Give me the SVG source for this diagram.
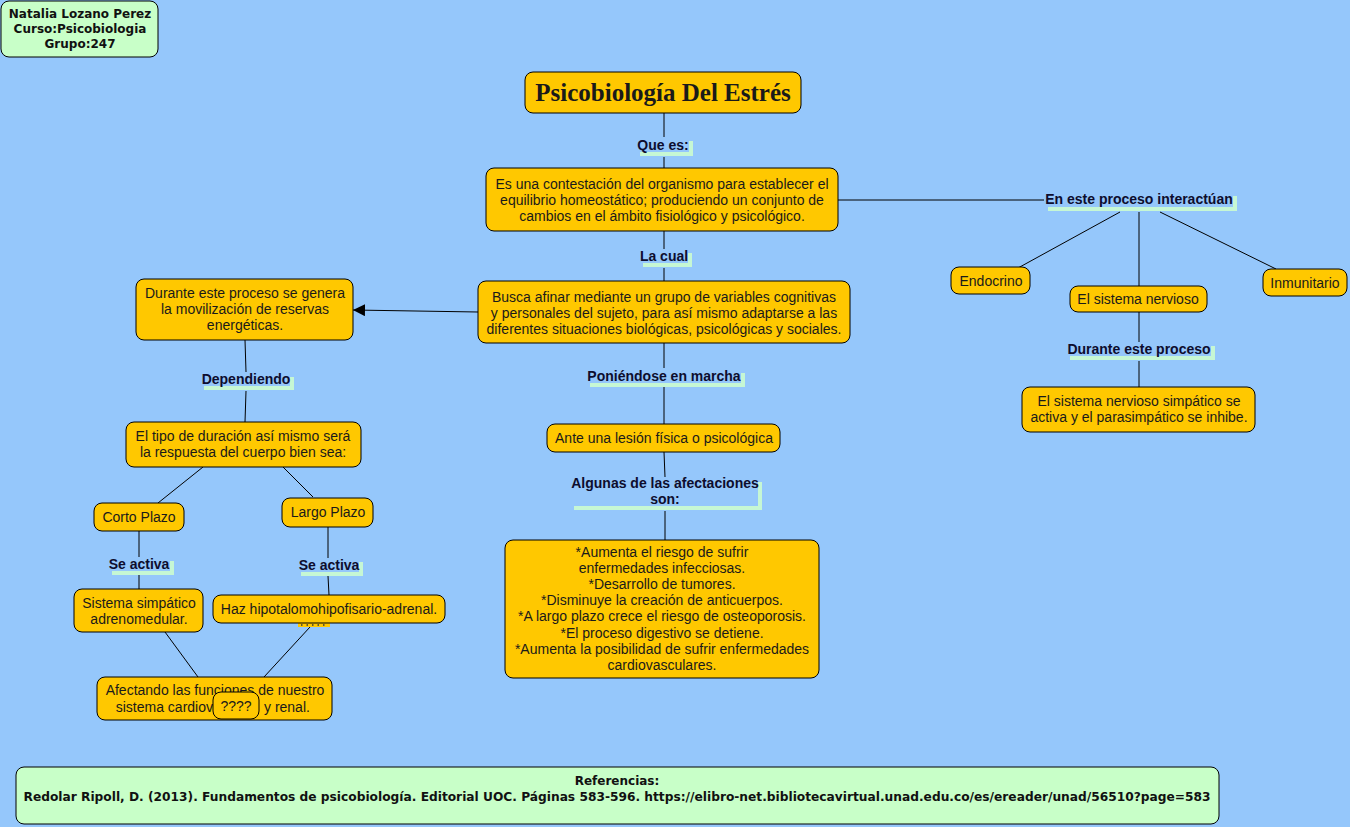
<svg xmlns="http://www.w3.org/2000/svg" width="1350" height="827" viewBox="0 0 1350 827">
<defs>
<marker id="arr" viewBox="0 0 12 12" refX="12" refY="6" markerWidth="12" markerHeight="12" markerUnits="userSpaceOnUse" orient="auto">
<path d="M0,0 L12,6 L0,12 Z" fill="#000"/>
</marker>
</defs>
<style>
.bg{fill:#95c7fb}
.n{fill:#ffc800;stroke:#000;stroke-width:1}
.g{fill:#c8ffc8;stroke:#000;stroke-width:1}
.t{font-family:"Liberation Sans",Arial,sans-serif;font-size:14px;fill:#1a1a1a;text-anchor:middle}
.l{font-family:"Liberation Sans",Arial,sans-serif;font-size:14px;font-weight:bold;fill:#0d0d2e;text-anchor:middle}
.v{font-family:"DejaVu Sans",Verdana,sans-serif;font-size:12px;font-weight:bold;fill:#111;text-anchor:middle}
.sh{fill:none;stroke:#c6f7d4;stroke-width:4}
.c{stroke:#000;stroke-width:1;fill:none}
</style>
<rect class="bg" x="0" y="0" width="1350" height="827"/>

<g id="connectors">
<line class="c" x1="664" y1="113" x2="664" y2="137"/>
<line class="c" x1="664" y1="157" x2="664" y2="168"/>
<line class="c" x1="664" y1="231" x2="664" y2="249"/>
<line class="c" x1="664" y1="268" x2="664" y2="281"/>
<line class="c" x1="478" y1="312" x2="353" y2="310" marker-end="url(#arr)"/>
<line class="c" x1="245" y1="340" x2="246" y2="372"/>
<line class="c" x1="246" y1="391" x2="245" y2="422"/>
<line class="c" x1="664" y1="343" x2="664" y2="368"/>
<line class="c" x1="664" y1="387" x2="664" y2="424"/>
<line class="c" x1="664" y1="452" x2="665" y2="477"/>
<line class="c" x1="665" y1="511" x2="665" y2="540"/>
<line class="c" x1="203" y1="467" x2="158" y2="503"/>
<line class="c" x1="283" y1="467" x2="313" y2="497"/>
<line class="c" x1="139" y1="531" x2="139" y2="557"/>
<line class="c" x1="139" y1="575" x2="139" y2="589"/>
<line class="c" x1="328" y1="527" x2="328" y2="558"/>
<line class="c" x1="328" y1="576" x2="329" y2="595"/>
<line class="c" x1="165" y1="632" x2="198" y2="677"/>
<line class="c" x1="310" y1="627" x2="264" y2="677"/>
<line class="c" x1="838" y1="200" x2="1044" y2="200"/>
<line class="c" x1="1120" y1="212" x2="1018" y2="268"/>
<line class="c" x1="1139" y1="212" x2="1139" y2="286"/>
<line class="c" x1="1160" y1="212" x2="1276" y2="269"/>
<line class="c" x1="1139" y1="312" x2="1139" y2="342"/>
<line class="c" x1="1139" y1="361" x2="1139" y2="387"/>
</g>

<g id="labels">
<g id="lbl-quees"><path class="sh" d="M640,154 H691 V141"/><text class="l" x="663" y="150">Que es:</text></g>
<g id="lbl-lacual"><path class="sh" d="M643,265 H690 V253"/><text class="l" x="664" y="261">La cual</text></g>
<g id="lbl-dependiendo"><path class="sh" d="M204,388 H292 V377"/><text class="l" x="246" y="384">Dependiendo</text></g>
<g id="lbl-poniendose"><path class="sh" d="M590,385 H743 V373"/><text class="l" x="664" y="381">Poniéndose en marcha</text></g>
<g id="lbl-algunas"><path class="sh" d="M574,508 H760 V482"/><text class="l" x="665" y="488">Algunas de las afectaciones</text><text class="l" x="665" y="504">son:</text></g>
<g id="lbl-seactiva1"><path class="sh" d="M112,573 H172 V561"/><text class="l" x="139" y="569">Se activa</text></g>
<g id="lbl-seactiva2"><path class="sh" d="M301,574 H361 V562"/><text class="l" x="329" y="570">Se activa</text></g>
<g id="lbl-interactuan"><path class="sh" d="M1048,209 H1235 V196"/><text class="l" x="1139" y="204">En este proceso interactúan</text></g>
<g id="lbl-duranteproceso"><path class="sh" d="M1070,358 H1213 V346"/><text class="l" x="1139" y="354">Durante este proceso</text></g>
</g>

<g id="n-autor"><rect class="g" x="1" y="1" width="157" height="56" rx="8"/>
<text class="v" x="80" y="18">Natalia Lozano Perez</text>
<text class="v" x="80" y="33">Curso:Psicobiologia</text>
<text class="v" x="80" y="48">Grupo:247</text></g>

<g id="n-titulo"><rect class="n" x="525" y="72" width="276" height="41" rx="8"/>
<text x="663" y="101" style="font-family:'Liberation Serif','Times New Roman',serif;font-size:25px;font-weight:bold;fill:#1a1a1a;text-anchor:middle">Psicobiología Del Estrés</text></g>

<g id="n-definicion"><rect class="n" x="486" y="168" width="352" height="63" rx="8"/>
<text class="t" x="662" y="189">Es una contestación del organismo para establecer el</text>
<text class="t" x="662" y="205">equilibrio homeostático; produciendo un conjunto de</text>
<text class="t" x="662" y="221">cambios en el ámbito fisiológico y psicológico.</text></g>

<g id="n-busca"><rect class="n" x="478" y="281" width="372" height="62" rx="8"/>
<text class="t" x="664" y="302">Busca afinar mediante un grupo de variables cognitivas</text>
<text class="t" x="664" y="318">y personales del sujeto, para así mismo adaptarse a las</text>
<text class="t" x="664" y="334">diferentes situaciones biológicas, psicológicas y sociales.</text></g>

<g id="n-movilizacion"><rect class="n" x="136" y="279" width="217" height="61" rx="8"/>
<text class="t" x="245" y="298">Durante este proceso se genera</text>
<text class="t" x="245" y="314">la movilización de reservas</text>
<text class="t" x="245" y="330">energéticas.</text></g>

<g id="n-duracion"><rect class="n" x="126" y="422" width="235" height="45" rx="8"/>
<text class="t" x="243" y="441">El tipo de duración así mismo será</text>
<text class="t" x="243" y="457">la respuesta del cuerpo bien sea:</text></g>

<g id="n-corto"><rect class="n" x="94" y="503" width="90" height="28" rx="8"/>
<text class="t" x="139" y="522">Corto Plazo</text></g>

<g id="n-largo"><rect class="n" x="282" y="498" width="91" height="29" rx="8"/>
<text class="t" x="328" y="517">Largo Plazo</text></g>

<g id="n-simpatico"><rect class="n" x="74" y="589" width="129" height="43" rx="8"/>
<text class="t" x="139" y="608">Sistema simpático</text>
<text class="t" x="139" y="624">adrenomedular.</text></g>

<g id="n-hidden"><rect x="298" y="618" width="32" height="9" fill="#ffc800"/>
<line x1="301" y1="625" x2="328" y2="625" stroke="#333" stroke-width="1.5" stroke-dasharray="1.5,4"/></g>

<g id="n-haz"><rect class="n" x="213" y="595" width="232" height="28" rx="8"/>
<text class="t" x="329" y="614">Haz hipotalomohipofisario-adrenal.</text></g>

<g id="n-afectando"><rect class="n" x="97" y="677" width="235" height="43" rx="8"/>
<text class="t" x="215" y="695">Afectando las funciones de nuestro</text>
<text class="t" x="213" y="712" style="text-anchor:end">sistema cardiov</text>
<text class="t" x="264" y="712" style="text-anchor:start">y renal.</text></g>

<g id="n-q"><rect class="n" x="213" y="692" width="46" height="27" rx="8"/>
<text class="t" x="236" y="711">????</text></g>

<g id="n-lesion"><rect class="n" x="547" y="424" width="233" height="28" rx="8"/>
<text class="t" x="664" y="443">Ante una lesión física o psicológica</text></g>

<g id="n-afectaciones"><rect class="n" x="505" y="540" width="314" height="138" rx="8"/>
<text class="t" x="662" y="557">*Aumenta el riesgo de sufrir</text>
<text class="t" x="662" y="573">enfermedades infecciosas.</text>
<text class="t" x="662" y="589">*Desarrollo de tumores.</text>
<text class="t" x="662" y="605">*Disminuye la creación de anticuerpos.</text>
<text class="t" x="662" y="621">*A largo plazo crece el riesgo de osteoporosis.</text>
<text class="t" x="662" y="638">*El proceso digestivo se detiene.</text>
<text class="t" x="662" y="654">*Aumenta la posibilidad de sufrir enfermedades</text>
<text class="t" x="662" y="670">cardiovasculares.</text></g>

<g id="n-endocrino"><rect class="n" x="951" y="267" width="79" height="27" rx="8"/>
<text class="t" x="991" y="286">Endocrino</text></g>

<g id="n-nervioso"><rect class="n" x="1070" y="286" width="137" height="26" rx="8"/>
<text class="t" x="1138" y="304">El sistema nervioso</text></g>

<g id="n-inmunitario"><rect class="n" x="1263" y="269" width="84" height="27" rx="8"/>
<text class="t" x="1305" y="288">Inmunitario</text></g>

<g id="n-simpatico-activa"><rect class="n" x="1022" y="387" width="233" height="45" rx="8"/>
<text class="t" x="1139" y="406">El sistema nervioso simpático se</text>
<text class="t" x="1139" y="422">activa y el parasimpático se inhibe.</text></g>

<g id="n-referencias"><rect class="g" x="16" y="767" width="1203" height="57" rx="8"/>
<text class="v" x="617" y="785">Referencias:</text>
<text class="v" x="617" y="801" textLength="1187" lengthAdjust="spacingAndGlyphs">Redolar Ripoll, D. (2013). Fundamentos de psicobiología. Editorial UOC. Páginas 583-596. https://elibro-net.bibliotecavirtual.unad.edu.co/es/ereader/unad/56510?page=583</text></g>
</svg>
